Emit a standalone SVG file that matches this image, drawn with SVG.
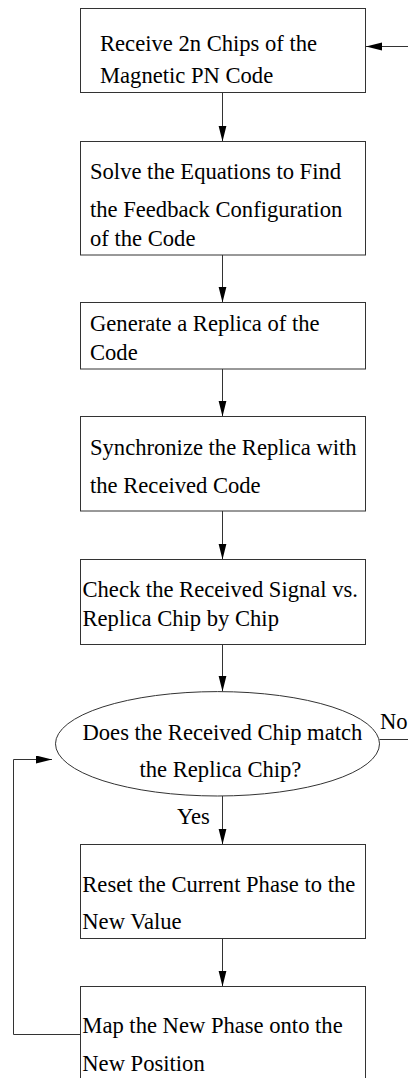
<svg xmlns="http://www.w3.org/2000/svg" width="408" height="1078" viewBox="0 0 408 1078">
<style>
.box{fill:#fff;stroke:#333;stroke-width:1}
.t{font-family:"Liberation Serif","Times New Roman",serif;font-size:22.6px;fill:#000}
.c{fill:none;stroke:#333;stroke-width:1}
</style>
<defs>
<marker id="ah" markerUnits="userSpaceOnUse" markerWidth="17" markerHeight="9" refX="16" refY="4" orient="auto">
<path d="M0,0 L16,4 L0,8 z" fill="#000"/>
</marker>
</defs>
<rect width="408" height="1078" fill="#fff"/>
<g id="connectors">
<line class="c" x1="222.5" y1="92.5" x2="222.5" y2="141.5" marker-end="url(#ah)"/>
<line class="c" x1="222.5" y1="255" x2="222.5" y2="302.5" marker-end="url(#ah)"/>
<line class="c" x1="222.5" y1="369" x2="222.5" y2="416.5" marker-end="url(#ah)"/>
<line class="c" x1="222.5" y1="511" x2="222.5" y2="559.5" marker-end="url(#ah)"/>
<line class="c" x1="222.5" y1="644.5" x2="222.5" y2="691.5" marker-end="url(#ah)"/>
<line class="c" x1="222.5" y1="796" x2="222.5" y2="844.5" marker-end="url(#ah)"/>
<line class="c" x1="222.5" y1="938.5" x2="222.5" y2="986.5" marker-end="url(#ah)"/>
<polyline class="c" points="80.5,1034.5 13.5,1034.5 13.5,759.5 52,759.5" marker-end="url(#ah)"/>
<polyline class="c" points="379.5,739.5 420,739.5 420,46.5 366,46.5" marker-end="url(#ah)"/>
<text class="t" x="380" y="729">No</text>
<text class="t" x="177" y="824">Yes</text>
</g>
<g id="n1">
<rect class="box" x="80.5" y="8.5" width="285" height="84"/>
<text class="t" x="100" y="51">Receive 2n Chips of the</text>
<text class="t" x="100" y="82.5">Magnetic PN Code</text>
</g>
<g id="n2">
<rect class="box" x="80.5" y="141.5" width="285" height="113.5"/>
<text class="t" x="90" y="179">Solve the Equations to Find</text>
<text class="t" x="90" y="216.5">the Feedback Configuration</text>
<text class="t" x="90" y="246">of the Code</text>
</g>
<g id="n3">
<rect class="box" x="80.5" y="302.5" width="285" height="66.5"/>
<text class="t" x="90" y="331">Generate a Replica of the</text>
<text class="t" x="90" y="360">Code</text>
</g>
<g id="n4">
<rect class="box" x="80.5" y="416.5" width="285" height="94.5"/>
<text class="t" x="90" y="455">Synchronize the Replica with</text>
<text class="t" x="90" y="492.5">the Received Code</text>
</g>
<g id="n5">
<rect class="box" x="80.5" y="559.5" width="285" height="85"/>
<text class="t" x="82.5" y="596.5">Check the Received Signal vs.</text>
<text class="t" x="82.5" y="626">Replica Chip by Chip</text>
</g>
<g id="n6">
<ellipse class="box" cx="217.5" cy="743.8" rx="162" ry="52.2"/>
<text class="t" x="82.5" y="740">Does the Received Chip match</text>
<text class="t" x="139.5" y="777.3">the Replica Chip?</text>
</g>
<g id="n7">
<rect class="box" x="80.5" y="844.5" width="285" height="94"/>
<text class="t" x="82.3" y="891.5">Reset the Current Phase to the</text>
<text class="t" x="82.3" y="929.3">New Value</text>
</g>
<g id="n8">
<rect class="box" x="80.5" y="986.5" width="285" height="120"/>
<text class="t" x="82.3" y="1033.3">Map the New Phase onto the</text>
<text class="t" x="82.3" y="1070.7">New Position</text>
</g>
</svg>
